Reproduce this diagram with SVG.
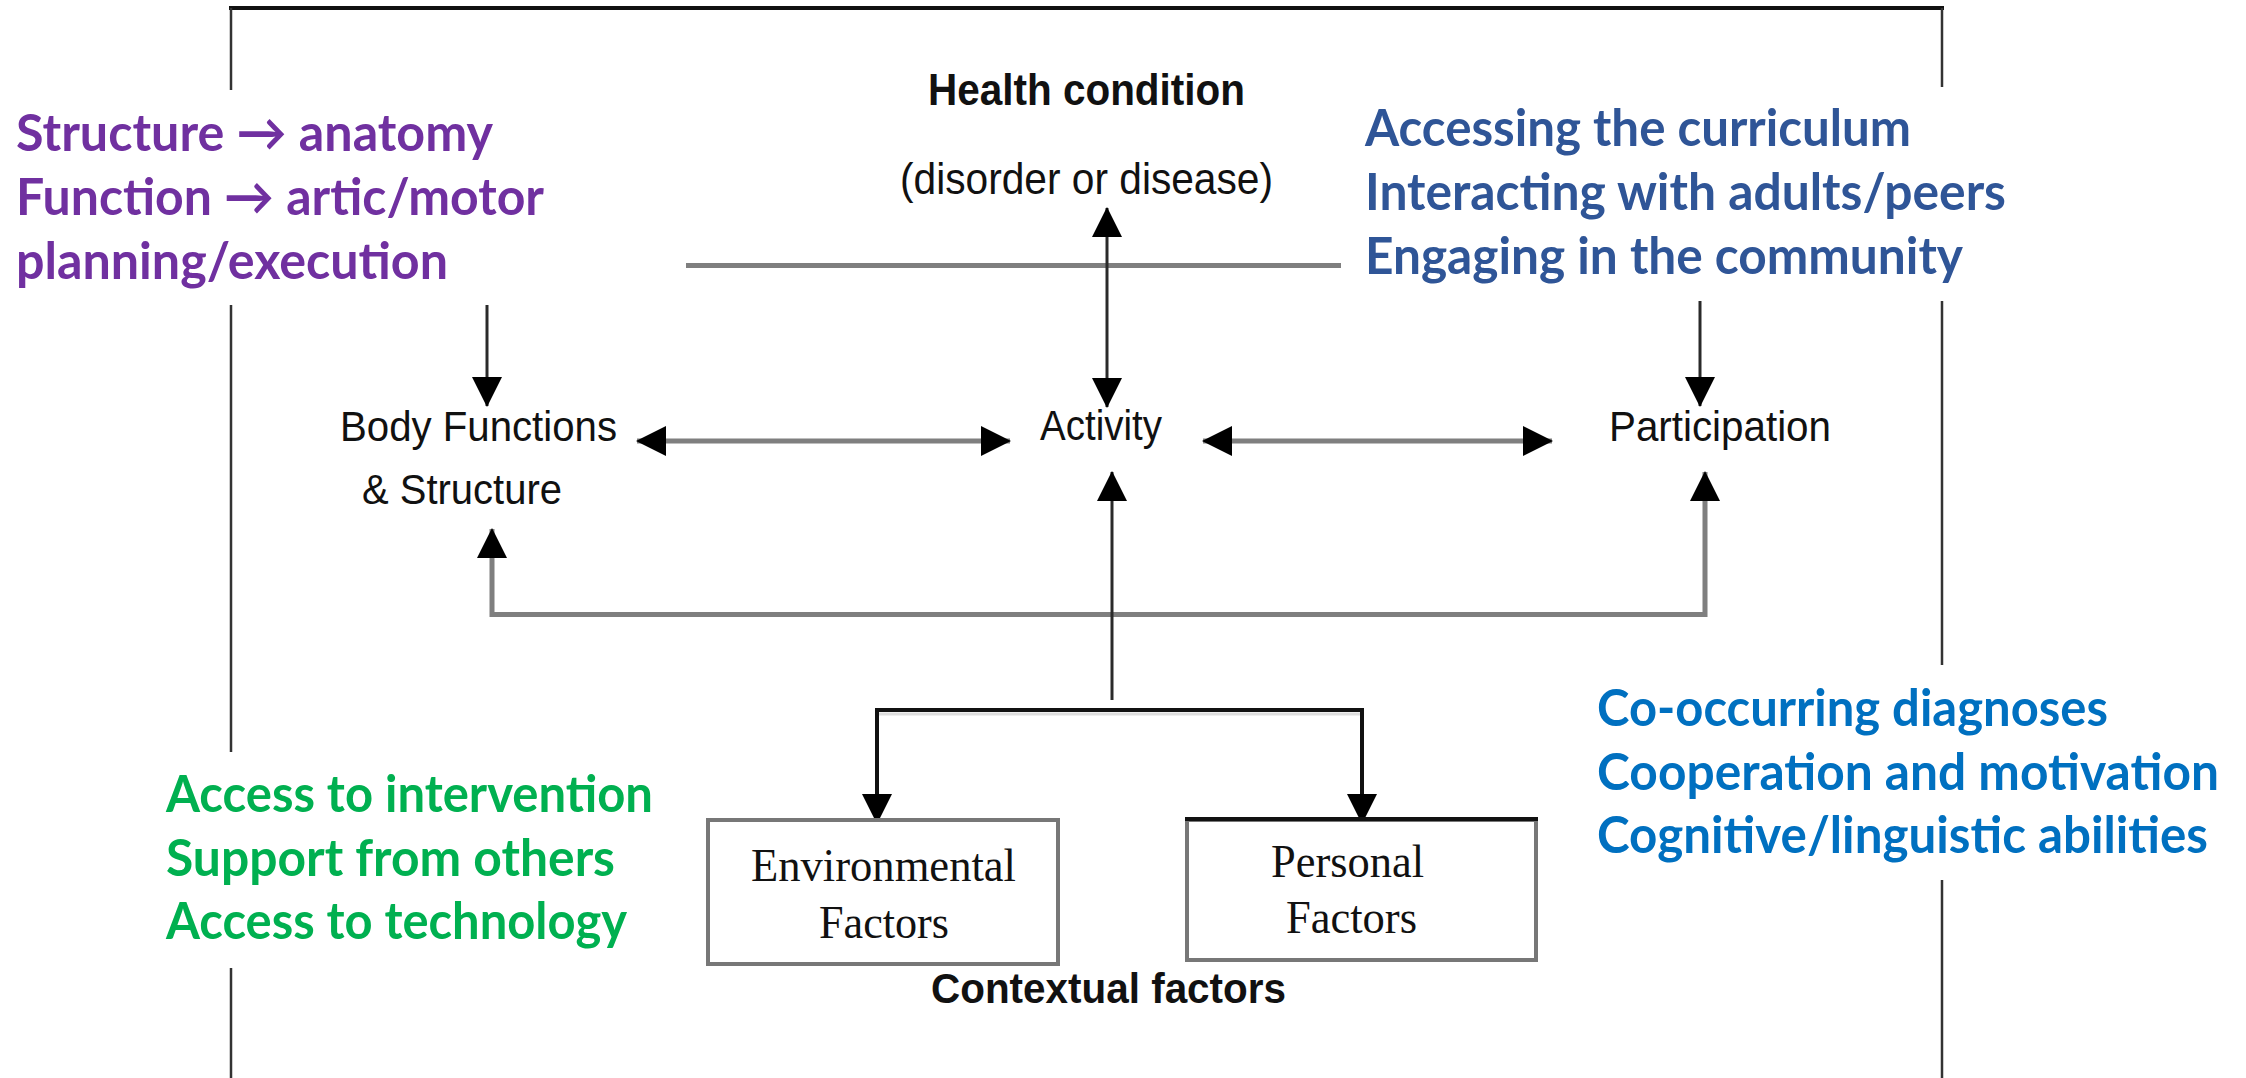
<svg xmlns="http://www.w3.org/2000/svg" width="2246" height="1078" viewBox="0 0 2246 1078">
  <style>
    .frame { stroke: #333; stroke-width: 2.5; fill: none; }
    .gray { stroke: #7f7f7f; stroke-width: 5; fill: none; }
    .dark { stroke: #2a2a2a; stroke-width: 3; fill: none; }
    .ink { stroke: #111; stroke-width: 4; fill: none; }
    .box { fill: #fff; stroke: #777; stroke-width: 4; }
    .sans { font-family: "Liberation Sans", Arial, sans-serif; fill: #111; }
    .bold { font-weight: bold; }
    .serif { font-family: "Liberation Serif", "Times New Roman", serif; fill: #111; }
    .note { font-family: Lato, "Open Sans", sans-serif; font-weight: bold; font-size: 52px; }
    .purple { fill: #7030A0; }
    .navy { fill: #2F5597; }
    .green { fill: #00B050; }
    .blue { fill: #0070C0; }
  </style>
  <defs>
    <marker id="head" markerUnits="userSpaceOnUse" markerWidth="30" markerHeight="30" viewBox="0 0 30 30" refX="29" refY="15" orient="auto-start-reverse">
      <path d="M0,0 L30,15 L0,30 z" fill="#000"/>
    </marker>
  </defs>

  <rect width="2246" height="1078" fill="#fff"/>

  <!-- open frame around the model -->
  <g id="frame">
    <line x1="229" y1="8" x2="1944" y2="8" stroke="#111" stroke-width="4"/>
    <line class="frame" x1="231" y1="8" x2="231" y2="90"/>
    <line class="frame" x1="231" y1="305" x2="231" y2="752"/>
    <line class="frame" x1="231" y1="968" x2="231" y2="1078"/>
    <line class="frame" x1="1942" y1="8" x2="1942" y2="87"/>
    <line class="frame" x1="1942" y1="301" x2="1942" y2="665"/>
    <line class="frame" x1="1942" y1="880" x2="1942" y2="1078"/>
  </g>

  <!-- connectors -->
  <g id="connectors">
    <line class="gray" x1="686" y1="265.5" x2="1341" y2="265.5"/>
    <line class="dark" x1="1107" y1="208" x2="1107" y2="407" marker-start="url(#head)" marker-end="url(#head)"/>
    <line class="dark" x1="487" y1="305" x2="487" y2="406" marker-end="url(#head)"/>
    <line class="dark" x1="1700" y1="301" x2="1700" y2="406" marker-end="url(#head)"/>
    <line class="gray" x1="637" y1="441" x2="1010" y2="441" marker-start="url(#head)" marker-end="url(#head)"/>
    <line class="gray" x1="1203" y1="441" x2="1552" y2="441" marker-start="url(#head)" marker-end="url(#head)"/>
    <polyline class="gray" points="492,529 492,614.5 1705,614.5 1705,472" marker-start="url(#head)" marker-end="url(#head)"/>
    <line class="dark" x1="1112" y1="700" x2="1112" y2="472" marker-end="url(#head)"/>
    <line x1="879" y1="714" x2="1364" y2="714" stroke="#ddd" stroke-width="3"/>
    <polyline class="ink" points="877,823 877,710 1362,710 1362,823" marker-start="url(#head)" marker-end="url(#head)"/>
  </g>

  <!-- ICF components -->
  <g id="health-condition">
    <text class="sans bold" x="928" y="105" font-size="44" textLength="317" lengthAdjust="spacingAndGlyphs">Health condition</text>
    <text class="sans" x="900" y="194" font-size="44" textLength="373" lengthAdjust="spacingAndGlyphs">(disorder or disease)</text>
  </g>
  <g id="body-functions">
    <text class="sans" x="340" y="441" font-size="43" textLength="277" lengthAdjust="spacingAndGlyphs">Body Functions</text>
    <text class="sans" x="362" y="504" font-size="43" textLength="200" lengthAdjust="spacingAndGlyphs">&amp; Structure</text>
  </g>
  <g id="activity">
    <text class="sans" x="1040" y="440" font-size="43" textLength="122" lengthAdjust="spacingAndGlyphs">Activity</text>
  </g>
  <g id="participation">
    <text class="sans" x="1609" y="441" font-size="43" textLength="222" lengthAdjust="spacingAndGlyphs">Participation</text>
  </g>
  <g id="environmental-factors">
    <rect class="box" x="708" y="820" width="350" height="144"/>
    <text class="serif" x="751" y="881" font-size="46" textLength="265" lengthAdjust="spacingAndGlyphs">Environmental</text>
    <text class="serif" x="819" y="938" font-size="46" textLength="130" lengthAdjust="spacingAndGlyphs">Factors</text>
  </g>
  <g id="personal-factors">
    <rect class="box" x="1187" y="820" width="349" height="140"/>
    <line x1="1185" y1="819" x2="1538" y2="819" stroke="#111" stroke-width="4"/>
    <text class="serif" x="1271" y="877" font-size="46" textLength="153" lengthAdjust="spacingAndGlyphs">Personal</text>
    <text class="serif" x="1286" y="933" font-size="46" textLength="131" lengthAdjust="spacingAndGlyphs">Factors</text>
  </g>
  <g id="contextual-factors">
    <text class="sans bold" x="931" y="1003" font-size="42" textLength="355" lengthAdjust="spacingAndGlyphs">Contextual factors</text>
  </g>

  <!-- annotations -->
  <g id="body-notes" class="note purple">
    <text x="16" y="151" textLength="477" lengthAdjust="spacingAndGlyphs">Structure → anatomy</text>
    <text x="16" y="215" textLength="528" lengthAdjust="spacingAndGlyphs">Function → artic/motor</text>
    <text x="16" y="279" textLength="432" lengthAdjust="spacingAndGlyphs">planning/execution</text>
  </g>
  <g id="participation-notes" class="note navy">
    <text x="1365" y="146" textLength="546" lengthAdjust="spacingAndGlyphs">Accessing the curriculum</text>
    <text x="1365" y="210" textLength="641" lengthAdjust="spacingAndGlyphs">Interacting with adults/peers</text>
    <text x="1365" y="274" textLength="598" lengthAdjust="spacingAndGlyphs">Engaging in the community</text>
  </g>
  <g id="environment-notes" class="note green">
    <text x="166" y="812" textLength="487" lengthAdjust="spacingAndGlyphs">Access to intervention</text>
    <text x="166" y="876" textLength="449" lengthAdjust="spacingAndGlyphs">Support from others</text>
    <text x="166" y="939" textLength="461" lengthAdjust="spacingAndGlyphs">Access to technology</text>
  </g>
  <g id="personal-notes" class="note blue">
    <text x="1597" y="726" textLength="511" lengthAdjust="spacingAndGlyphs">Co-occurring diagnoses</text>
    <text x="1597" y="790" textLength="622" lengthAdjust="spacingAndGlyphs">Cooperation and motivation</text>
    <text x="1597" y="853" textLength="611" lengthAdjust="spacingAndGlyphs">Cognitive/linguistic abilities</text>
  </g>
</svg>
